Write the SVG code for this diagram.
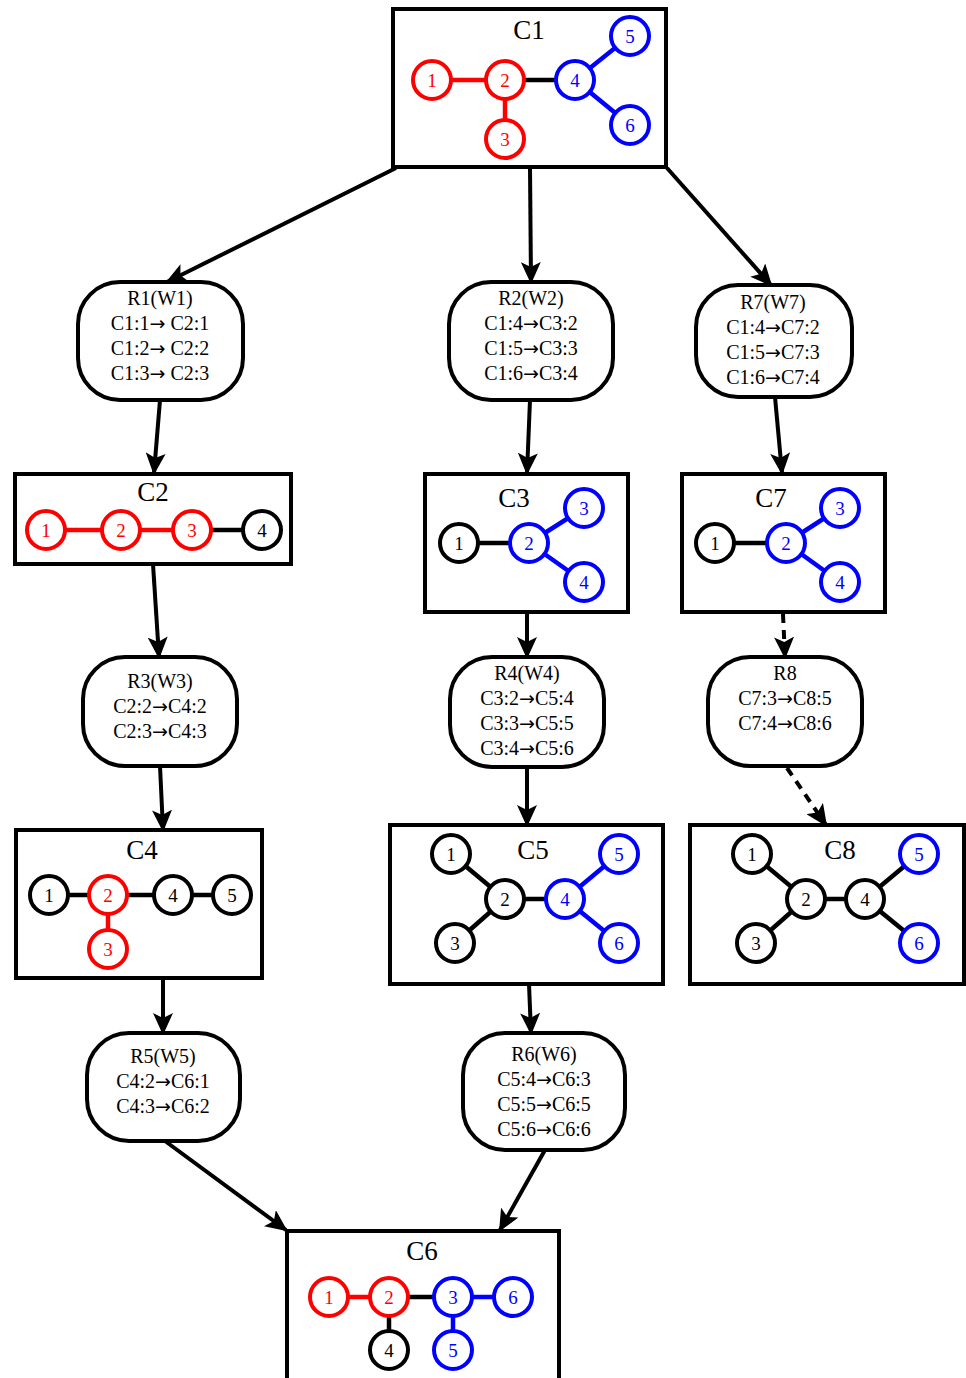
<svg xmlns="http://www.w3.org/2000/svg" width="966" height="1378" viewBox="0 0 966 1378">
<style>
.box{fill:#fff;stroke:#000;stroke-width:4}
.rr{fill:#fff;stroke:#000;stroke-width:4}
text{font-family:'Liberation Serif','Times New Roman',serif}
.t{font-size:20px;text-anchor:middle;fill:#000}
.ar{font-family:'DejaVu Sans',sans-serif;font-size:19px}
.ti{font-size:27px;text-anchor:middle;fill:#000}
.n{fill:#fff;stroke-width:4}
.nl{font-size:19px;text-anchor:middle}
.k{stroke:#000;fill:#000}
.r{stroke:#f00;fill:#f00}
.b{stroke:#00f;fill:#00f}
.e{stroke-width:4.5}
.c{stroke:#000;stroke-width:4;fill:none;marker-end:url(#ah)}
.d{stroke-dasharray:9,7}
</style>
<defs>
<marker id="ah" markerWidth="24" markerHeight="20" refX="20" refY="10" orient="auto" markerUnits="userSpaceOnUse">
<path d="M0,0 L22,10 L0,20 L5,10 z" fill="#000"/>
</marker>
</defs>
<g id="connectors">
<line class="c" x1="396" y1="168" x2="167" y2="282"/>
<line class="c" x1="530" y1="168" x2="531" y2="282"/>
<line class="c" x1="667" y1="168" x2="771" y2="285"/>
<line class="c" x1="160" y1="400" x2="154" y2="473"/>
<line class="c" x1="530" y1="400" x2="527" y2="473"/>
<line class="c" x1="775" y1="397" x2="782" y2="473"/>
<line class="c" x1="153" y1="564" x2="159" y2="657"/>
<line class="c" x1="527" y1="612" x2="527" y2="657"/>
<line class="c d" x1="783" y1="614" x2="785" y2="657"/>
<line class="c" x1="160" y1="766" x2="163" y2="830"/>
<line class="c" x1="527" y1="767" x2="527" y2="825"/>
<line class="c d" x1="787" y1="768" x2="826" y2="825"/>
<line class="c" x1="163" y1="978" x2="163" y2="1033"/>
<line class="c" x1="529" y1="984" x2="531" y2="1033"/>
<line class="c" x1="165" y1="1141" x2="286" y2="1230"/>
<line class="c" x1="545" y1="1150" x2="500" y2="1230"/>
</g>
<g id="C1">
<rect class="box" x="393" y="9" width="273" height="158"/>
<text class="ti" x="529" y="39">C1</text>
<line class="e r" x1="432" y1="80" x2="505" y2="80"/>
<line class="e r" x1="505" y1="80" x2="505" y2="139"/>
<line class="e k" x1="505" y1="80" x2="575" y2="80"/>
<line class="e b" x1="575" y1="80" x2="630" y2="36"/>
<line class="e b" x1="575" y1="80" x2="630" y2="125"/>
<circle class="n r" style="fill:#fff" cx="432" cy="80" r="19"/><text class="nl" fill="#f00" x="432" y="87">1</text>
<circle class="n r" style="fill:#fff" cx="505" cy="80" r="19"/><text class="nl" fill="#f00" x="505" y="87">2</text>
<circle class="n r" style="fill:#fff" cx="505" cy="139" r="19"/><text class="nl" fill="#f00" x="505" y="146">3</text>
<circle class="n b" style="fill:#fff" cx="575" cy="80" r="19"/><text class="nl" fill="#00f" x="575" y="87">4</text>
<circle class="n b" style="fill:#fff" cx="630" cy="36" r="19"/><text class="nl" fill="#00f" x="630" y="43">5</text>
<circle class="n b" style="fill:#fff" cx="630" cy="125" r="19"/><text class="nl" fill="#00f" x="630" y="132">6</text>
</g>
<g id="R1">
<rect class="rr" x="78" y="282" width="165" height="118" rx="42"/>
<text class="t" x="160" y="305">R1(W1)</text>
<text class="t" x="160" y="330">C1:1<tspan class="ar">→</tspan> C2:1</text>
<text class="t" x="160" y="355">C1:2<tspan class="ar">→</tspan> C2:2</text>
<text class="t" x="160" y="380">C1:3<tspan class="ar">→</tspan> C2:3</text>
</g>
<g id="R2">
<rect class="rr" x="449" y="282" width="164" height="118" rx="42"/>
<text class="t" x="531" y="305">R2(W2)</text>
<text class="t" x="531" y="330">C1:4<tspan class="ar">→</tspan>C3:2</text>
<text class="t" x="531" y="355">C1:5<tspan class="ar">→</tspan>C3:3</text>
<text class="t" x="531" y="380">C1:6<tspan class="ar">→</tspan>C3:4</text>
</g>
<g id="R7">
<rect class="rr" x="696" y="285" width="156" height="112" rx="42"/>
<text class="t" x="773" y="309">R7(W7)</text>
<text class="t" x="773" y="334">C1:4<tspan class="ar">→</tspan>C7:2</text>
<text class="t" x="773" y="359">C1:5<tspan class="ar">→</tspan>C7:3</text>
<text class="t" x="773" y="384">C1:6<tspan class="ar">→</tspan>C7:4</text>
</g>
<g id="C2">
<rect class="box" x="15" y="474" width="276" height="90"/>
<text class="ti" x="153" y="501">C2</text>
<line class="e r" x1="46" y1="530" x2="192" y2="530"/>
<line class="e k" x1="192" y1="530" x2="262" y2="530"/>
<circle class="n r" style="fill:#fff" cx="46" cy="530" r="19"/><text class="nl" fill="#f00" x="46" y="537">1</text>
<circle class="n r" style="fill:#fff" cx="121" cy="530" r="19"/><text class="nl" fill="#f00" x="121" y="537">2</text>
<circle class="n r" style="fill:#fff" cx="192" cy="530" r="19"/><text class="nl" fill="#f00" x="192" y="537">3</text>
<circle class="n k" style="fill:#fff" cx="262" cy="530" r="19"/><text class="nl" fill="#000" x="262" y="537">4</text>
</g>
<g id="C3">
<rect class="box" x="425" y="474" width="203" height="138"/>
<text class="ti" x="514" y="507">C3</text>
<line class="e k" x1="459" y1="543" x2="529" y2="543"/>
<line class="e b" x1="529" y1="543" x2="584" y2="508"/>
<line class="e b" x1="529" y1="543" x2="584" y2="582"/>
<circle class="n k" style="fill:#fff" cx="459" cy="543" r="19"/><text class="nl" fill="#000" x="459" y="550">1</text>
<circle class="n b" style="fill:#fff" cx="529" cy="543" r="19"/><text class="nl" fill="#00f" x="529" y="550">2</text>
<circle class="n b" style="fill:#fff" cx="584" cy="508" r="19"/><text class="nl" fill="#00f" x="584" y="515">3</text>
<circle class="n b" style="fill:#fff" cx="584" cy="582" r="19"/><text class="nl" fill="#00f" x="584" y="589">4</text>
</g>
<g id="C7">
<rect class="box" x="682" y="474" width="203" height="138"/>
<text class="ti" x="771" y="507">C7</text>
<line class="e k" x1="715" y1="543" x2="786" y2="543"/>
<line class="e b" x1="786" y1="543" x2="840" y2="508"/>
<line class="e b" x1="786" y1="543" x2="840" y2="582"/>
<circle class="n k" style="fill:#fff" cx="715" cy="543" r="19"/><text class="nl" fill="#000" x="715" y="550">1</text>
<circle class="n b" style="fill:#fff" cx="786" cy="543" r="19"/><text class="nl" fill="#00f" x="786" y="550">2</text>
<circle class="n b" style="fill:#fff" cx="840" cy="508" r="19"/><text class="nl" fill="#00f" x="840" y="515">3</text>
<circle class="n b" style="fill:#fff" cx="840" cy="582" r="19"/><text class="nl" fill="#00f" x="840" y="589">4</text>
</g>
<g id="R3">
<rect class="rr" x="83" y="657" width="154" height="109" rx="42"/>
<text class="t" x="160" y="688">R3(W3)</text>
<text class="t" x="160" y="713">C2:2<tspan class="ar">→</tspan>C4:2</text>
<text class="t" x="160" y="738">C2:3<tspan class="ar">→</tspan>C4:3</text>
</g>
<g id="R4">
<rect class="rr" x="450" y="657" width="154" height="110" rx="42"/>
<text class="t" x="527" y="680">R4(W4)</text>
<text class="t" x="527" y="705">C3:2<tspan class="ar">→</tspan>C5:4</text>
<text class="t" x="527" y="730">C3:3<tspan class="ar">→</tspan>C5:5</text>
<text class="t" x="527" y="755">C3:4<tspan class="ar">→</tspan>C5:6</text>
</g>
<g id="R8">
<rect class="rr" x="708" y="657" width="154" height="109" rx="42"/>
<text class="t" x="785" y="680">R8</text>
<text class="t" x="785" y="705">C7:3<tspan class="ar">→</tspan>C8:5</text>
<text class="t" x="785" y="730">C7:4<tspan class="ar">→</tspan>C8:6</text>
</g>
<g id="C4">
<rect class="box" x="16" y="830" width="246" height="148"/>
<text class="ti" x="142" y="859">C4</text>
<line class="e k" x1="49" y1="895" x2="232" y2="895"/>
<line class="e r" x1="108" y1="895" x2="108" y2="949"/>
<circle class="n k" style="fill:#fff" cx="49" cy="895" r="19"/><text class="nl" fill="#000" x="49" y="902">1</text>
<circle class="n r" style="fill:#fff" cx="108" cy="895" r="19"/><text class="nl" fill="#f00" x="108" y="902">2</text>
<circle class="n k" style="fill:#fff" cx="173" cy="895" r="19"/><text class="nl" fill="#000" x="173" y="902">4</text>
<circle class="n k" style="fill:#fff" cx="232" cy="895" r="19"/><text class="nl" fill="#000" x="232" y="902">5</text>
<circle class="n r" style="fill:#fff" cx="108" cy="949" r="19"/><text class="nl" fill="#f00" x="108" y="956">3</text>
</g>
<g id="C5">
<rect class="box" x="390" y="825" width="273" height="159"/>
<text class="ti" x="533" y="859">C5</text>
<line class="e k" x1="451" y1="854" x2="505" y2="899"/>
<line class="e k" x1="455" y1="943" x2="505" y2="899"/>
<line class="e k" x1="505" y1="899" x2="565" y2="899"/>
<line class="e b" x1="565" y1="899" x2="619" y2="854"/>
<line class="e b" x1="565" y1="899" x2="619" y2="943"/>
<circle class="n k" style="fill:#fff" cx="451" cy="854" r="19"/><text class="nl" fill="#000" x="451" y="861">1</text>
<circle class="n k" style="fill:#fff" cx="505" cy="899" r="19"/><text class="nl" fill="#000" x="505" y="906">2</text>
<circle class="n k" style="fill:#fff" cx="455" cy="943" r="19"/><text class="nl" fill="#000" x="455" y="950">3</text>
<circle class="n b" style="fill:#fff" cx="565" cy="899" r="19"/><text class="nl" fill="#00f" x="565" y="906">4</text>
<circle class="n b" style="fill:#fff" cx="619" cy="854" r="19"/><text class="nl" fill="#00f" x="619" y="861">5</text>
<circle class="n b" style="fill:#fff" cx="619" cy="943" r="19"/><text class="nl" fill="#00f" x="619" y="950">6</text>
</g>
<g id="C8">
<rect class="box" x="690" y="825" width="274" height="159"/>
<text class="ti" x="840" y="859">C8</text>
<line class="e k" x1="752" y1="854" x2="806" y2="899"/>
<line class="e k" x1="756" y1="943" x2="806" y2="899"/>
<line class="e k" x1="806" y1="899" x2="865" y2="899"/>
<line class="e k" x1="865" y1="899" x2="919" y2="854"/>
<line class="e k" x1="865" y1="899" x2="919" y2="943"/>
<circle class="n k" style="fill:#fff" cx="752" cy="854" r="19"/><text class="nl" fill="#000" x="752" y="861">1</text>
<circle class="n k" style="fill:#fff" cx="806" cy="899" r="19"/><text class="nl" fill="#000" x="806" y="906">2</text>
<circle class="n k" style="fill:#fff" cx="756" cy="943" r="19"/><text class="nl" fill="#000" x="756" y="950">3</text>
<circle class="n k" style="fill:#fff" cx="865" cy="899" r="19"/><text class="nl" fill="#000" x="865" y="906">4</text>
<circle class="n b" style="fill:#fff" cx="919" cy="854" r="19"/><text class="nl" fill="#00f" x="919" y="861">5</text>
<circle class="n b" style="fill:#fff" cx="919" cy="943" r="19"/><text class="nl" fill="#00f" x="919" y="950">6</text>
</g>
<g id="R5">
<rect class="rr" x="87" y="1033" width="153" height="108" rx="42"/>
<text class="t" x="163" y="1063">R5(W5)</text>
<text class="t" x="163" y="1088">C4:2<tspan class="ar">→</tspan>C6:1</text>
<text class="t" x="163" y="1113">C4:3<tspan class="ar">→</tspan>C6:2</text>
</g>
<g id="R6">
<rect class="rr" x="463" y="1033" width="162" height="117" rx="42"/>
<text class="t" x="544" y="1061">R6(W6)</text>
<text class="t" x="544" y="1086">C5:4<tspan class="ar">→</tspan>C6:3</text>
<text class="t" x="544" y="1111">C5:5<tspan class="ar">→</tspan>C6:5</text>
<text class="t" x="544" y="1136">C5:6<tspan class="ar">→</tspan>C6:6</text>
</g>
<g id="C6">
<rect class="box" x="287" y="1231" width="272" height="160"/>
<text class="ti" x="422" y="1260">C6</text>
<line class="e r" x1="329" y1="1297" x2="389" y2="1297"/>
<line class="e k" x1="389" y1="1297" x2="453" y2="1297"/>
<line class="e b" x1="453" y1="1297" x2="513" y2="1297"/>
<line class="e b" x1="453" y1="1297" x2="453" y2="1350"/>
<line class="e k" x1="389" y1="1297" x2="389" y2="1350"/>
<circle class="n r" style="fill:#fff" cx="329" cy="1297" r="19"/><text class="nl" fill="#f00" x="329" y="1304">1</text>
<circle class="n r" style="fill:#fff" cx="389" cy="1297" r="19"/><text class="nl" fill="#f00" x="389" y="1304">2</text>
<circle class="n b" style="fill:#fff" cx="453" cy="1297" r="19"/><text class="nl" fill="#00f" x="453" y="1304">3</text>
<circle class="n b" style="fill:#fff" cx="513" cy="1297" r="19"/><text class="nl" fill="#00f" x="513" y="1304">6</text>
<circle class="n k" style="fill:#fff" cx="389" cy="1350" r="19"/><text class="nl" fill="#000" x="389" y="1357">4</text>
<circle class="n b" style="fill:#fff" cx="453" cy="1350" r="19"/><text class="nl" fill="#00f" x="453" y="1357">5</text>
</g>
</svg>
